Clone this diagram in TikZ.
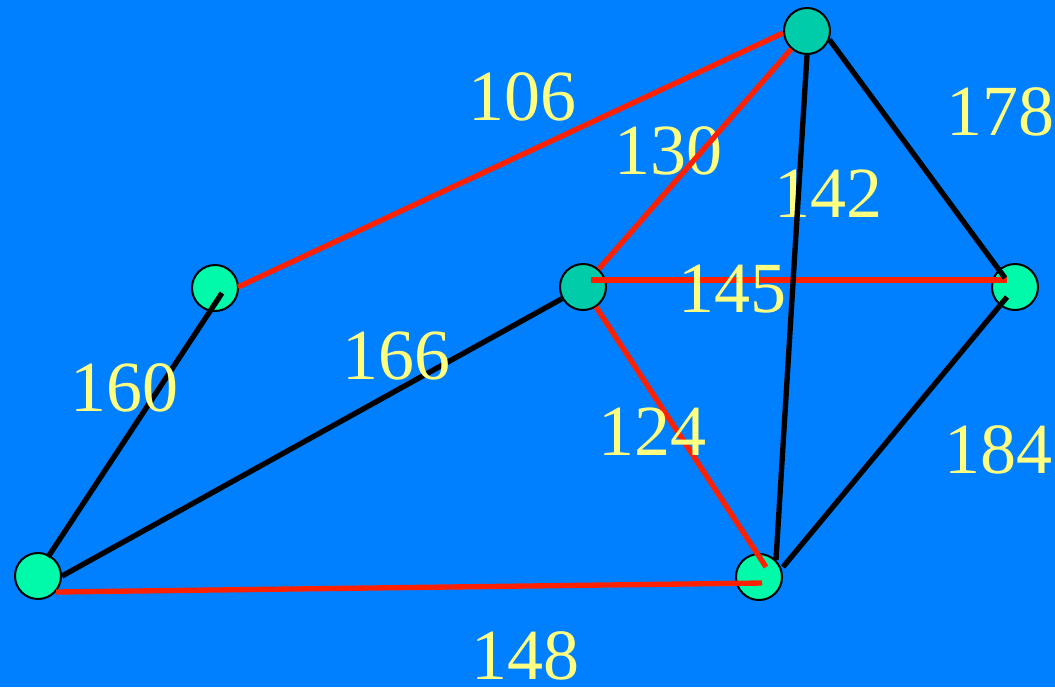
\documentclass[tikz,border=0pt]{standalone}
\usepackage{fontspec}
\setmainfont{Liberation Serif}
\definecolor{bgblue}{RGB}{0,128,255}
\definecolor{lightnode}{RGB}{0,250,170}
\definecolor{darknode}{RGB}{0,204,170}
\definecolor{edgered}{RGB}{255,32,0}
\definecolor{labelyellow}{RGB}{255,255,128}

\begin{document}
\begin{tikzpicture}[
    x=0.75pt,
    y=-0.75pt,
    vertex/.style={
        circle,
        draw=black,
        line width=1.5pt,
        minimum size=34.5pt,
        inner sep=0pt
    },
    redge/.style={draw=edgered, line width=4pt},
    bedge/.style={draw=black, line width=4pt},
    weight/.style={
        text=labelyellow,
        inner sep=0pt,
        font=\fontsize{54}{54}\selectfont
    }
]
\fill[bgblue] (0,0) rectangle (1055,687);
\useasboundingbox (0,0) rectangle (1055,687);

% Vertices; the top and centre ones are a darker green.
\foreach \name/\x/\y/\shade in {
    A/807/31/darknode,
    B/215/288/lightnode,
    C/583/287/darknode,
    D/1015/287/lightnode,
    E/38/576/lightnode,
    F/759/577/lightnode}{
    \node[vertex, fill=\shade] (\name) at (\x,\y) {};
}

% These two weights lie under their lines.
\foreach \w/\x/\y in {130/668/151, 142/828/194}{
    \node[weight] (w\w) at (\x,\y) {\w};
}

\draw[redge] ([shift={(23,-1)}]B.center) -- ([shift={(-24,2)}]A.center);
\draw[redge] (C) -- (A);
\draw[redge] ([shift={(8,-7)}]C.center) -- ([shift={(-8,-7)}]D.center);
\draw[redge] (C) -- ([shift={(7,-10)}]F.center);
\draw[redge] ([shift={(18,16)}]E.center) -- ([shift={(3,6)}]F.center);

\draw[bedge] ([shift={(7,5)}]B.center) -- ([shift={(10,-19)}]E.center);
\draw[bedge] (C) -- (E.east);
\draw[bedge] (A.south) -- (F.north east);
\draw[bedge] (A.-21) -- ([shift={(-10,-9)}]D.center);
\draw[bedge] ([shift={(24,-10)}]F.center) -- ([shift={(-8,10)}]D.center);

\foreach \w/\x/\y in {
    106/522/97,
    178/1000/112,
    145/732/289,
    166/396/356,
    160/124/388,
    124/652/432,
    184/998/450,
    148/525/656}{
    \node[weight] (w\w) at (\x,\y) {\w};
}
\end{tikzpicture}
\end{document}
